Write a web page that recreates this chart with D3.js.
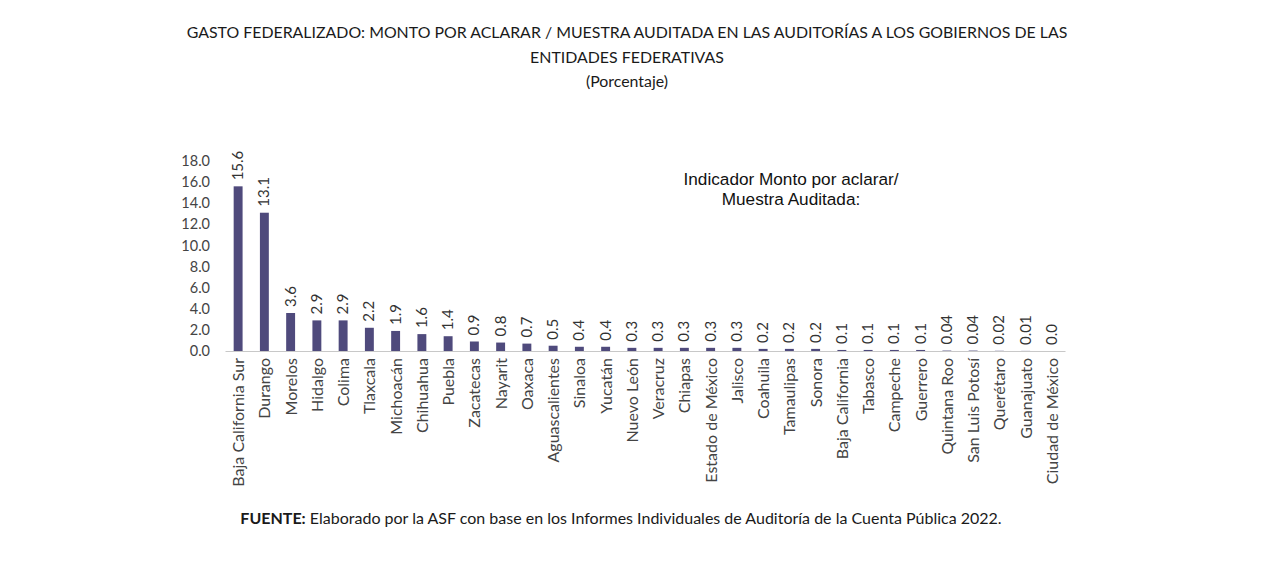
<!DOCTYPE html>
<html>
<head>
<meta charset="utf-8">
<script src="https://cdn.jsdelivr.net/npm/d3@7"></script>
<style>
  body { margin: 0; background: #fff; }
  svg { display: block; }
</style>
</head>
<body>
<svg id="chart" width="1280" height="576"></svg>
<script>
const categories = ["Baja California Sur","Durango","Morelos","Hidalgo","Colima","Tlaxcala","Michoacán","Chihuahua","Puebla","Zacatecas","Nayarit","Oaxaca","Aguascalientes","Sinaloa","Yucatán","Nuevo León","Veracruz","Chiapas","Estado de México","Jalisco","Coahuila","Tamaulipas","Sonora","Baja California","Tabasco","Campeche","Guerrero","Quintana Roo","San Luis Potosí","Querétaro","Guanajuato","Ciudad de México"];
const values = [15.6,13.1,3.6,2.9,2.9,2.2,1.9,1.6,1.4,0.9,0.8,0.7,0.5,0.4,0.4,0.3,0.3,0.3,0.3,0.3,0.2,0.2,0.2,0.1,0.1,0.1,0.1,0.04,0.04,0.02,0.01,0.0];
const valueLabels = ["15.6","13.1","3.6","2.9","2.9","2.2","1.9","1.6","1.4","0.9","0.8","0.7","0.5","0.4","0.4","0.3","0.3","0.3","0.3","0.3","0.2","0.2","0.2","0.1","0.1","0.1","0.1","0.04","0.04","0.02","0.01","0.0"];
const yTicks = [0,2,4,6,8,10,12,14,16,18];
const titleLines = ["GASTO FEDERALIZADO: MONTO POR ACLARAR / MUESTRA AUDITADA EN LAS AUDITORÍAS A LOS GOBIERNOS DE LAS","ENTIDADES FEDERATIVAS","(Porcentaje)"];
const annotationLines = ["Indicador Monto por aclarar/","Muestra Auditada:"];
const sourceBold = "FUENTE:";
const sourceText = " Elaborado por la ASF con base en los Informes Individuales de Auditoría de la Cuenta Pública 2022.";

const svg = d3.select("#chart");
const font = "Lato, 'Open Sans', sans-serif";

const x = d3.scaleBand().domain(categories).range([225, 1065]).paddingInner(0.66).paddingOuter(0.33);
const y = d3.scaleLinear().domain([0, 18]).range([351, 161]);

// title
svg.append("g").selectAll("text").data(titleLines).join("text")
  .attr("x", 627).attr("y", (d, i) => 38 + i * 24.5)
  .attr("text-anchor", "middle")
  .attr("font-family", font).attr("font-size", 15.9).attr("fill", "#1a1a1a")
  .text(d => d);

// y axis
const yAxis = svg.append("g").attr("transform", "translate(225,0)")
  .call(d3.axisLeft(y).tickValues(yTicks).tickFormat(d3.format(".1f")).tickSize(0).tickPadding(15));
yAxis.select(".domain").remove();
yAxis.selectAll("text").attr("font-family", font).attr("font-size", 14.5).attr("fill", "#444");

// bars
svg.append("g").selectAll("rect").data(values).join("rect")
  .attr("x", (d, i) => x(categories[i]))
  .attr("width", x.bandwidth())
  .attr("y", d => y(d))
  .attr("height", d => y(0) - y(d))
  .attr("fill", "#4f4a7c");

// x axis baseline
const xAxis = svg.append("g").attr("transform", `translate(0,${y(0)})`)
  .call(d3.axisBottom(x).tickSize(0).tickPadding(0));
xAxis.select(".domain").attr("stroke", "#c8c8c8").attr("stroke-width", 1.2);
xAxis.selectAll("text")
  .attr("font-family", font).attr("font-size", 16).attr("fill", "#444")
  .attr("text-anchor", "end")
  .attr("dy", null).attr("y", 0)
  .attr("transform", "translate(6,7) rotate(-90)");

// value labels
svg.append("g").selectAll("text").data(values).join("text")
  .attr("transform", (d, i) => `translate(${x(categories[i]) + x.bandwidth() / 2 + 5},${y(d) - 6}) rotate(-90)`)
  .attr("font-family", font).attr("font-size", 15).attr("fill", "#333")
  .text((d, i) => valueLabels[i]);

// annotation
svg.append("g").selectAll("text").data(annotationLines).join("text")
  .attr("x", 791).attr("y", (d, i) => 185 + i * 20)
  .attr("text-anchor", "middle")
  .attr("font-family", "'Liberation Sans', Arial, sans-serif").attr("font-size", 17.2).attr("fill", "#111")
  .text(d => d);

// source
const src = svg.append("text").attr("x", 621).attr("y", 524).attr("text-anchor", "middle")
  .attr("font-family", font).attr("font-size", 16).attr("fill", "#1a1a1a");
src.append("tspan").attr("font-weight", "bold").text(sourceBold);
src.append("tspan").text(sourceText);
</script>
</body>
</html>
